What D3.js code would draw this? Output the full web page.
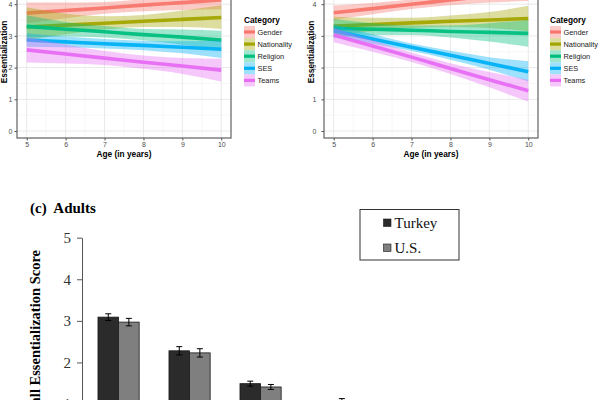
<!DOCTYPE html>
<html>
<head>
<meta charset="utf-8">
<script src="https://cdn.jsdelivr.net/npm/d3@7"></script>
<style>
  html, body { margin: 0; padding: 0; background: #fff; }
  svg { display: block; }
</style>
</head>
<body>
<svg id="chart" width="600" height="400"></svg>
<script>
// ---------- DATA ----------
const categories = ["Gender", "Nationality", "Religion", "SES", "Teams"];
const colors = ["#F8766D", "#A3A500", "#00BF7D", "#00B0F6", "#E76BF3"];
const ages = [5, 6, 7, 8, 9, 10];
const xTicks = [5, 6, 7, 8, 9, 10];
const yTicksTop = [0, 1, 2, 3, 4, 5];

// Panel (a) fitted lines and confidence bands (per age)
const aFit = [
  [3.72, 3.80, 3.88, 3.97, 4.05, 4.13],
  [3.28, 3.34, 3.40, 3.46, 3.52, 3.58],
  [3.30, 3.21, 3.13, 3.04, 2.96, 2.87],
  [2.87, 2.81, 2.75, 2.70, 2.64, 2.58],
  [2.56, 2.43, 2.30, 2.17, 2.05, 1.92]
];
const aLow = [
  [3.40, 3.56, 3.70, 3.78, 3.82, 3.84],
  [2.85, 3.05, 3.20, 3.28, 3.28, 3.22],
  [2.95, 2.98, 2.95, 2.86, 2.72, 2.58],
  [2.66, 2.64, 2.60, 2.55, 2.45, 2.30],
  [2.16, 2.13, 2.08, 1.96, 1.80, 1.56]
];
const aHigh = [
  [4.05, 4.05, 4.07, 4.16, 4.28, 4.42],
  [3.90, 3.70, 3.62, 3.66, 3.80, 3.97],
  [3.65, 3.44, 3.31, 3.22, 3.20, 3.16],
  [3.08, 2.98, 2.90, 2.85, 2.83, 2.86],
  [2.96, 2.73, 2.52, 2.38, 2.30, 2.28]
];

// Panel (b)
const bFit = [
  [3.73, 3.86, 4.00, 4.13, 4.27, 4.40],
  [3.31, 3.36, 3.41, 3.46, 3.50, 3.55],
  [3.24, 3.21, 3.18, 3.14, 3.11, 3.08],
  [3.16, 2.90, 2.64, 2.39, 2.13, 1.87],
  [3.03, 2.68, 2.33, 1.97, 1.62, 1.27]
];
const bLow = [
  [3.50, 3.68, 3.85, 3.97, 4.05, 4.10],
  [3.02, 3.15, 3.25, 3.28, 3.25, 3.15],
  [2.95, 3.02, 3.03, 2.95, 2.82, 2.66],
  [2.95, 2.75, 2.52, 2.25, 1.93, 1.56],
  [2.80, 2.50, 2.18, 1.80, 1.38, 0.92]
];
const bHigh = [
  [3.96, 4.04, 4.15, 4.29, 4.49, 4.70],
  [3.60, 3.57, 3.57, 3.64, 3.75, 3.95],
  [3.53, 3.40, 3.33, 3.33, 3.40, 3.50],
  [3.37, 3.05, 2.76, 2.53, 2.33, 2.20],
  [3.26, 2.86, 2.48, 2.14, 1.86, 1.62]
];

// Panel (c) adults bar chart
const countries = ["Turkey", "U.S."];
const barColors = ["#2b2b2b", "#7f7f7f"];
const turkey = [3.09, 2.28, 1.49, 0.97, 0.80];
const turkeyErr = [0.08, 0.10, 0.06, 0.06, 0.05];
const us = [2.97, 2.23, 1.41, 1.06, 0.85];
const usErr = [0.09, 0.10, 0.06, 0.07, 0.05];
const yTicksBar = [0, 1, 2, 3, 4, 5];

// ---------- DRAW ----------
const svg = d3.select("#chart");
const sans = "'Liberation Sans', Arial, Helvetica, sans-serif";
const serif = "'Liberation Serif', 'Times New Roman', serif";

function drawPanel(cfg) {
  const { left, right, fit, low, high, id, yLabelX, tickPad, legX } = cfg;
  const x = d3.scaleLinear().domain([4.75, 10.25]).range([left, right]);
  const y = d3.scaleLinear().domain([-0.22, 5.22]).range([138, -34.5]);
  const g = svg.append("g");

  g.append("clipPath").attr("id", id).append("rect")
    .attr("x", left).attr("y", y(5.22)).attr("width", right - left).attr("height", 138 - y(5.22));

  // grid
  const minorX = d3.range(5.5, 10.01, 1);
  const minorY = d3.range(0.5, 5.01, 1);
  g.selectAll(".mgx").data(minorX).join("line")
    .attr("x1", d => x(d)).attr("x2", d => x(d)).attr("y1", y(5.22)).attr("y2", 138)
    .attr("stroke", "#f2f2f2").attr("stroke-width", 0.6);
  g.selectAll(".mgy").data(minorY).join("line")
    .attr("y1", d => y(d)).attr("y2", d => y(d)).attr("x1", left).attr("x2", right)
    .attr("stroke", "#f2f2f2").attr("stroke-width", 0.6);
  g.selectAll(".gx").data(xTicks).join("line")
    .attr("x1", d => x(d)).attr("x2", d => x(d)).attr("y1", y(5.22)).attr("y2", 138)
    .attr("stroke", "#e6e6e6").attr("stroke-width", 0.9);
  g.selectAll(".gy").data(yTicksTop).join("line")
    .attr("y1", d => y(d)).attr("y2", d => y(d)).attr("x1", left).attr("x2", right)
    .attr("stroke", "#e6e6e6").attr("stroke-width", 0.9);

  // ribbons + lines per group
  const area = d3.area().x((d, i) => x(ages[i])).y0(d => y(d[0])).y1(d => y(d[1])).curve(d3.curveMonotoneX);
  const line = d3.line().x((d, i) => x(ages[i])).y(d => y(d)).curve(d3.curveMonotoneX);
  const plot = g.append("g").attr("clip-path", `url(#${id})`);
  categories.forEach((c, k) => {
    const band = low[k].map((v, i) => [v, high[k][i]]);
    plot.append("path").attr("d", area(band)).attr("fill", colors[k]).attr("fill-opacity", 0.38);
    plot.append("path").attr("d", line(fit[k])).attr("fill", "none")
      .attr("stroke", colors[k]).attr("stroke-width", 3.6).attr("stroke-opacity", 0.95);
  });

  // border
  g.append("rect").attr("x", left).attr("y", y(5.22)).attr("width", right - left).attr("height", 138 - y(5.22))
    .attr("fill", "none").attr("stroke", "#6e6e6e").attr("stroke-width", 1.3);

  // axes
  const ax = g.append("g").attr("transform", "translate(0,138)")
    .call(d3.axisBottom(x).tickValues(xTicks).tickSize(2.5).tickPadding(2).tickFormat(d3.format("d")));
  const ay = g.append("g").attr("transform", `translate(${left},0)`)
    .call(d3.axisLeft(y).tickValues(yTicksTop).tickSize(2.5).tickPadding(tickPad).tickFormat(d3.format("d")));
  [ax, ay].forEach(a => {
    a.select(".domain").remove();
    a.selectAll("line").attr("stroke", "#555");
    a.selectAll("text").attr("fill", "#4d4d4d").style("font-family", sans).style("font-size", "7px");
  });

  g.append("text").attr("x", (left + right) / 2).attr("y", 157).attr("text-anchor", "middle")
    .style("font-family", sans).style("font-size", "8.3px").style("font-weight", "bold").text("Age (in years)");
  g.append("text").attr("transform", `translate(${yLabelX},52) rotate(-90)`).attr("text-anchor", "middle")
    .style("font-family", sans).style("font-size", "8.3px").style("font-weight", "bold").text("Essentialization");

  // legend
  const lg = g.append("g").attr("transform", `translate(${legX},0)`);
  lg.append("text").attr("x", 0).attr("y", 23).style("font-family", sans).style("font-size", "8.3px")
    .style("font-weight", "bold").text("Category");
  categories.forEach((c, k) => {
    const cy = 32 + k * 12.1;
    lg.append("rect").attr("x", 0).attr("y", cy - 6).attr("width", 11).attr("height", 12)
      .attr("fill", colors[k]).attr("fill-opacity", 0.38);
    lg.append("line").attr("x1", 0).attr("x2", 11).attr("y1", cy).attr("y2", cy)
      .attr("stroke", colors[k]).attr("stroke-width", 3.2);
    lg.append("text").attr("x", 13.5).attr("y", cy + 2.6).style("font-family", sans).style("font-size", "7.4px")
      .attr("fill", "#1a1a1a").text(c);
  });
}

drawPanel({ left: 17, right: 231, fit: aFit, low: aLow, high: aHigh, id: "clipA", yLabelX: 6.5, tickPad: 2, legX: 244 });
drawPanel({ left: 324, right: 538, fit: bFit, low: bLow, high: bHigh, id: "clipB", yLabelX: 314, tickPad: 5, legX: 550 });

// ---------- Panel (c) ----------
const gc = svg.append("g");
gc.append("text").attr("x", 30).attr("y", 212.5).style("font-family", serif).style("font-size", "15px")
  .style("font-weight", "bold").attr("xml:space", "preserve").text("(c)  Adults");

const yb = d3.scaleLinear().domain([0, 5]).range([445.6, 237.7]);
const step = 71, pIn = 0.42, pOut = 0.225;
const xb = d3.scaleBand().domain(categories)
  .range([82, 82 + step * (categories.length - pIn + 2 * pOut)])
  .paddingInner(pIn).paddingOuter(pOut);
const xs = d3.scaleBand().domain(countries).range([0, xb.bandwidth()]);

const series = [
  { name: "Turkey", vals: turkey, errs: turkeyErr, color: barColors[0] },
  { name: "U.S.", vals: us, errs: usErr, color: barColors[1] }
];
series.forEach(s => {
  const bg = gc.append("g");
  bg.selectAll("rect").data(categories).join("rect")
    .attr("x", d => xb(d) + xs(s.name))
    .attr("y", (d, i) => yb(s.vals[i]))
    .attr("width", xs.bandwidth())
    .attr("height", (d, i) => yb(0) - yb(s.vals[i]))
    .attr("fill", s.color).attr("stroke", "#1a1a1a").attr("stroke-width", 0.8);
  categories.forEach((d, i) => {
    const cx = xb(d) + xs(s.name) + xs.bandwidth() / 2;
    const y1 = yb(s.vals[i] + s.errs[i]), y2 = yb(s.vals[i] - s.errs[i]);
    bg.append("line").attr("x1", cx).attr("x2", cx).attr("y1", y1).attr("y2", y2).attr("stroke", "#000").attr("stroke-width", 1);
    bg.append("line").attr("x1", cx - 3).attr("x2", cx + 3).attr("y1", y1).attr("y2", y1).attr("stroke", "#000").attr("stroke-width", 1);
    bg.append("line").attr("x1", cx - 3).attr("x2", cx + 3).attr("y1", y2).attr("y2", y2).attr("stroke", "#000").attr("stroke-width", 1);
  });
});

const axb = gc.append("g").attr("transform", "translate(82,0)")
  .call(d3.axisLeft(yb).tickValues(yTicksBar).tickSize(5).tickSizeOuter(0).tickPadding(6).tickFormat(d3.format("d")));
axb.select(".domain").attr("stroke", "#555").attr("stroke-width", 1);
axb.selectAll("line").attr("stroke", "#555");
axb.selectAll("text").attr("fill", "#333").style("font-family", serif).style("font-size", "15px");

gc.append("text").attr("transform", "translate(40,250) rotate(-90)").attr("text-anchor", "end")
  .style("font-family", serif).style("font-size", "14.5px").style("font-weight", "bold")
  .text("Overall Essentialization Score");

// legend
const lgb = gc.append("g");
lgb.append("rect").attr("x", 360).attr("y", 209.5).attr("width", 99).attr("height", 50.5)
  .attr("fill", "#fff").attr("stroke", "#333").attr("stroke-width", 1);
countries.forEach((c, k) => {
  const yy = 219 + k * 25;
  lgb.append("rect").attr("x", 383.5).attr("y", yy).attr("width", 7.5).attr("height", 7.5)
    .attr("fill", barColors[k]).attr("stroke", "#1a1a1a").attr("stroke-width", 0.6);
  lgb.append("text").attr("x", 394.5).attr("y", yy + 9).style("font-family", serif).style("font-size", "15px")
    .attr("fill", "#111").text(c);
});
</script>
</body>
</html>
